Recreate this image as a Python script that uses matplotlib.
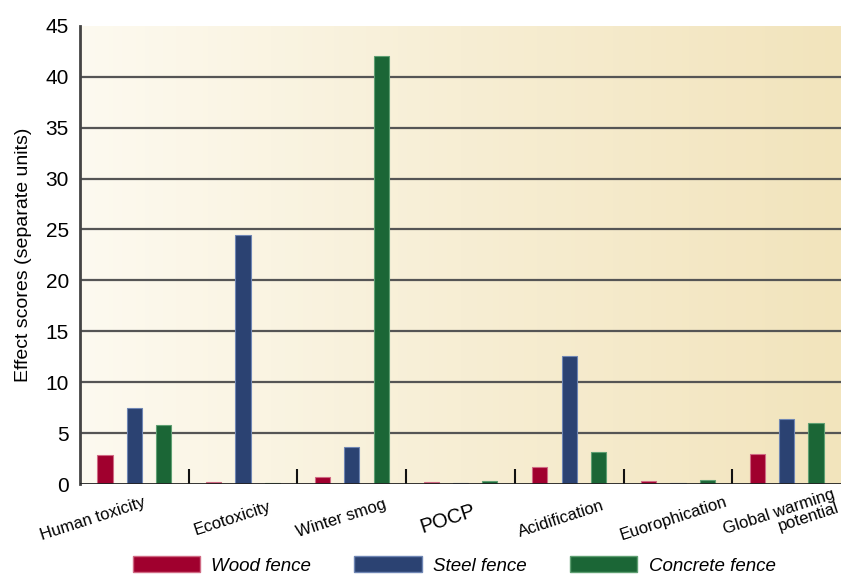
import numpy as np
import matplotlib.pyplot as plt
from matplotlib.colors import LinearSegmentedColormap
from matplotlib.patches import Patch

plt.rcParams['font.family'] = ['Liberation Sans', 'DejaVu Sans']

categorias = ['Human toxicity', 'Ecotoxicity', 'Winter smog', 'POCP',
              'Acidification', 'Euorophication', 'Global warming\npotential']
madera = [2.8, 0.22, 0.72, 0.16, 1.7, 0.26, 2.95]
acero = [7.45, 24.5, 3.67, 0.06, 12.6, 0.13, 6.35]
concreto = [5.75, 0.13, 42.0, 0.27, 3.18, 0.36, 5.96]
series = ['Wood fence', 'Steel fence', 'Concrete fence']

colores = ['#a0002e', '#2b4272', '#1b6636']
bordes = ['#d06a84', '#6f86b4', '#5f9f72']

fig = plt.figure(figsize=(8.41, 5.8), dpi=100)
ax = fig.add_axes([0.0951, 0.1655, 0.9049, 0.79])

x = np.arange(len(categorias))
ancho = 0.14
sep = 0.27

# fondo degradado
fondo = LinearSegmentedColormap.from_list('fondo', ['#fdfaf0', '#f7eed4', '#f2e4bc'])
grad = np.linspace(0, 1, 256).reshape(1, -1)
ax.imshow(grad, cmap=fondo, aspect='auto', extent=[-0.5, len(categorias) - 0.5, 0, 45],
          zorder=0)

for i, vals in enumerate([madera, acero, concreto]):
    ax.bar(x + (i - 1) * sep, vals, ancho, color=colores[i], edgecolor=bordes[i],
           linewidth=0.8, zorder=3, label=series[i])

ax.set_xlim(-0.5, len(categorias) - 0.5)
ax.set_ylim(0, 45)
ax.set_yticks(np.arange(0, 46, 5))
ax.tick_params(axis='y', length=0, labelsize=15, pad=8)
for yv in range(5, 45, 5):
    ax.axhline(yv, color='#555555', lw=1.6, zorder=1)
ax.axhline(0, color='#222222', lw=2, zorder=4)

for s in ['top', 'right', 'bottom']:
    ax.spines[s].set_visible(False)
ax.spines['left'].set_color('#444444')
ax.spines['left'].set_linewidth(2)

# separadores entre grupos
ax.set_xticks(x[:-1] + 0.5)
ax.set_xticklabels([])
ax.tick_params(axis='x', direction='in', length=11, width=1.5, color='#111111')

desp = [-0.38, -0.1, -0.1, -0.12, -0.07, -0.04, -0.05]
tam = [12, 12, 12, 14.5, 12, 12, 12]
for i, c in enumerate(categorias):
    ax.text(x[i] + desp[i], -3.4, c, rotation=18, ha='center', va='center',
            fontsize=tam[i], multialignment='right', rotation_mode='anchor',
            linespacing=1.0)

ax.set_ylabel('Effect scores (separate units)', fontsize=14, labelpad=10)

manejadores = [Patch(facecolor=colores[i], edgecolor=bordes[i], label=series[i])
               for i in range(3)]
fig.legend(handles=manejadores, loc='lower center', ncol=3, frameon=False,
           bbox_to_anchor=(0.54, -0.02), handlelength=3.6, handleheight=0.95,
           handletextpad=0.6, columnspacing=2.3,
           prop={'style': 'italic', 'size': 13.5})

fig.savefig('out.png', dpi=100)
